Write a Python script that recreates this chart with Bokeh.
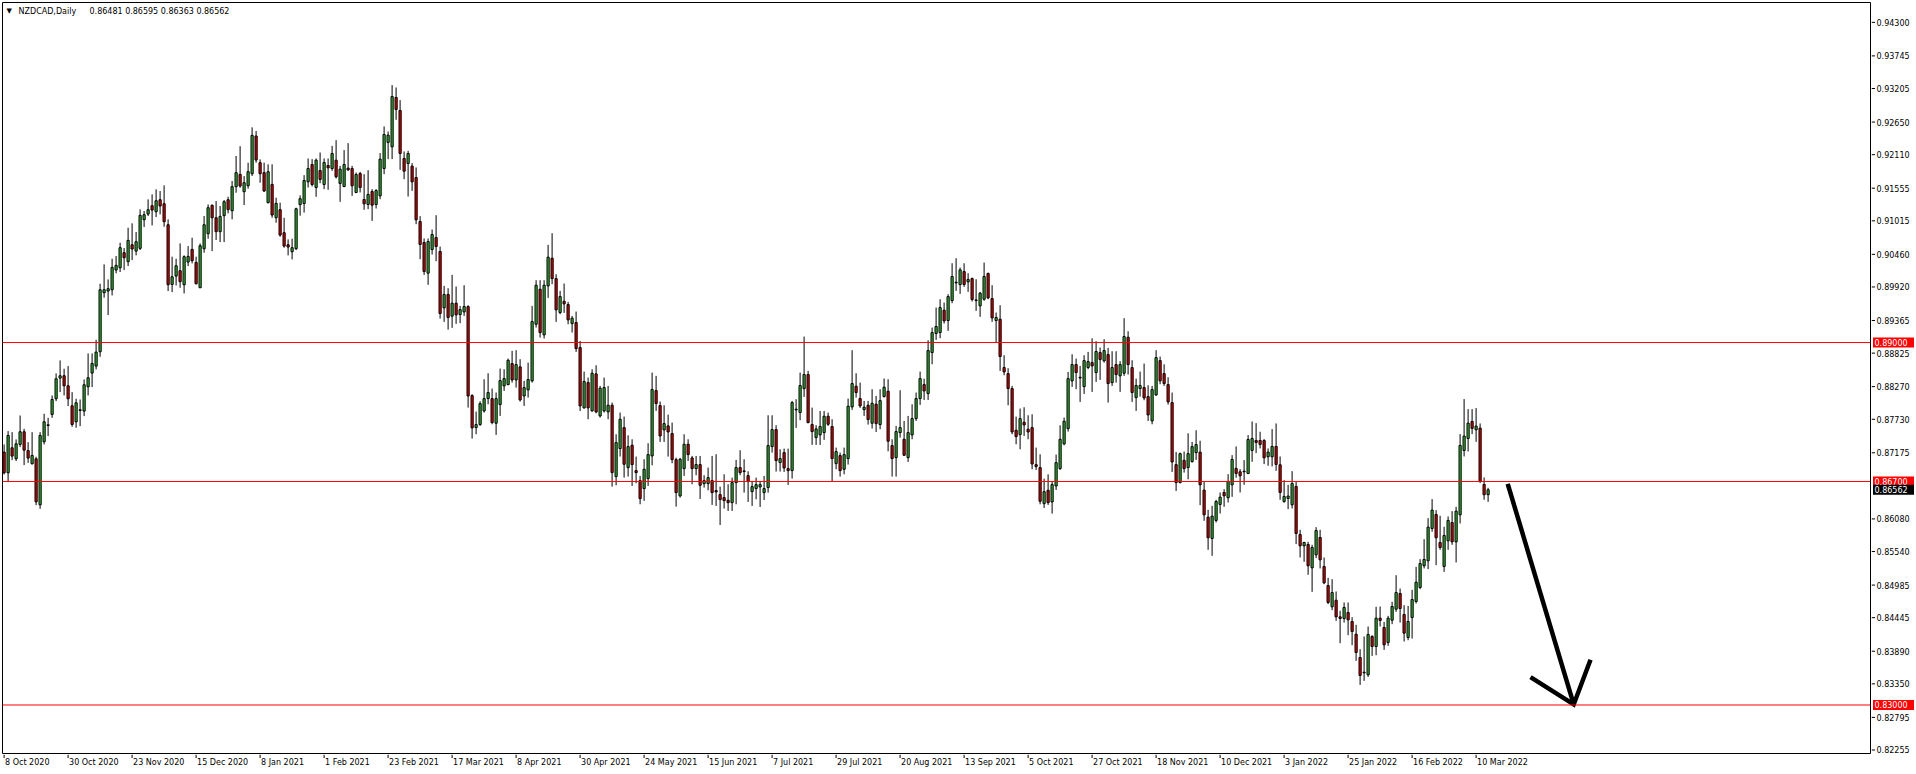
from bokeh.plotting import figure
from bokeh.layouts import column, row
from bokeh.models import Range1d, Label, ColumnDataSource, Span
from bokeh.core.properties import value
from bokeh.embed import file_html
from bokeh.resources import INLINE

symbol = "NZDCAD,Daily"
last_ohlc = "0.86481 0.86595 0.86363 0.86562"

opens = [
0.87186,0.86844,0.87258,0.87075,0.87313,0.87523,0.87213,0.86993,0.87075,0.86314,
0.87357,0.87627,0.87810,0.88069,0.88411,0.88450,0.88284,0.87953,0.87688,0.87876,
0.87865,0.88268,0.88494,0.88610,0.88847,0.89824,0.89852,0.89874,0.90200,0.90238,
0.90487,0.90338,0.90619,0.90514,0.90559,0.91033,0.91127,0.91265,0.91166,0.91364,
0.91298,0.90950,0.89962,0.90100,0.90189,0.89957,0.90332,0.90542,0.90327,0.89907,
0.90553,0.90801,0.91271,0.91066,0.90835,0.91100,0.91364,0.91182,0.91580,0.91784,
0.91497,0.91596,0.91795,0.92419,0.91977,0.91812,0.91315,0.91618,0.91066,0.91199,
0.90818,0.90619,0.90503,0.90553,0.91282,0.91301,0.91660,0.91947,0.91566,0.91848,
0.91616,0.91931,0.91881,0.92019,0.91633,0.91583,0.91887,0.91881,0.91484,0.91798,
0.91368,0.91285,0.91500,0.91285,0.91428,0.91881,0.92312,0.92240,0.93057,0.92842,
0.92047,0.91964,0.91920,0.91732,0.91003,0.90656,0.90148,0.90540,0.90738,0.90507,
0.89574,0.89795,0.89436,0.89651,0.89463,0.89507,0.89596,0.88122,0.87592,0.87642,
0.87868,0.88072,0.88072,0.87664,0.87973,0.88282,0.88304,0.88652,0.88381,0.88597,
0.88116,0.88216,0.88365,0.89303,0.89883,0.89127,0.89938,0.90396,0.90059,0.89496,
0.89684,0.89629,0.89314,0.89331,0.88917,0.87918,0.88337,0.87868,0.88481,0.87785,
0.87868,0.87852,0.87962,0.86781,0.87244,0.87592,0.86930,0.87300,0.86880,0.86715,
0.86582,0.86748,0.87123,0.88205,0.87956,0.87554,0.87620,0.87493,0.87062,0.86461,
0.86913,0.87316,0.87090,0.86913,0.86980,0.86665,0.86665,0.86715,0.86549,0.86483,
0.86433,0.86389,0.86350,0.86681,0.86930,0.86875,0.86797,0.86532,0.86582,0.86610,
0.86516,0.86599,0.87278,0.87559,0.87013,0.87178,0.86913,0.86880,0.87885,0.87841,
0.88238,0.88470,0.87642,0.87427,0.87471,0.87509,0.87780,0.87609,0.86996,0.87129,
0.86902,0.87079,0.87934,0.88277,0.88072,0.87890,0.87962,0.87664,0.87979,0.87642,
0.88106,0.88194,0.87294,0.87095,0.87509,0.87399,0.87095,0.87471,0.87741,0.88072,
0.88304,0.88155,0.88834,0.89149,0.89165,0.89535,0.89364,0.89695,0.89988,0.89960,
0.90175,0.90004,0.90059,0.89706,0.89607,0.89717,0.90142,0.89728,0.89364,0.89386,
0.88586,0.88486,0.88238,0.87548,0.87476,0.87680,0.87564,0.87592,0.86979,0.86930,
0.86333,0.86554,0.86361,0.86626,0.86913,0.87322,0.87575,0.88365,0.88635,0.88425,
0.88271,0.88586,0.88668,0.88503,0.88834,0.88696,0.88801,0.88337,0.88635,0.88448,
0.88492,0.89088,0.88586,0.88089,0.88238,0.88254,0.88105,0.87702,0.88133,0.88701,
0.88486,0.88304,0.88006,0.86979,0.86681,0.87051,0.86930,0.87029,0.87178,0.87186,
0.86557,0.86110,0.85756,0.86055,0.86320,0.86518,0.86430,0.86645,0.86916,0.86860,
0.86860,0.86833,0.87214,0.87379,0.87379,0.87379,0.87109,0.87109,0.87280,0.86976,
0.86369,0.86419,0.86314,0.86618,0.85823,0.85635,0.85657,0.85271,0.85486,0.85773,
0.85293,0.84978,0.84625,0.84735,0.84459,0.84432,0.84531,0.84382,0.84172,0.83786,
0.83543,0.83499,0.84134,0.83968,0.84437,0.84283,0.84034,0.84404,0.84586,0.84846,
0.84498,0.84117,0.84448,0.84713,0.84945,0.85304,0.85387,0.85922,0.86154,0.85690,
0.85293,0.85718,0.86021,0.85701,0.86148,0.87214,0.87412,0.87694,0.87556,0.87584,
0.86651,0.86481]

highs = [
0.87313,0.87534,0.87517,0.87396,0.87793,0.87572,0.87351,0.87517,0.87109,0.87517,
0.87821,0.87754,0.88124,0.88489,0.88704,0.88566,0.88610,0.88179,0.88069,0.88058,
0.88389,0.88820,0.88820,0.89046,0.89973,0.90294,0.90045,0.90387,0.90432,0.90652,
0.90564,0.90901,0.90973,0.90829,0.91204,0.91177,0.91370,0.91453,0.91536,0.91508,
0.91602,0.91039,0.90421,0.90387,0.90641,0.90443,0.90597,0.90735,0.90421,0.90641,
0.91094,0.91287,0.91287,0.91342,0.91260,0.91359,0.91414,0.91674,0.92088,0.92250,
0.91756,0.91977,0.92562,0.92502,0.92032,0.91977,0.91950,0.91950,0.91398,0.91315,
0.91066,0.90708,0.90719,0.91232,0.91436,0.91771,0.92047,0.92036,0.92047,0.92146,
0.92047,0.92047,0.92256,0.92350,0.91925,0.92185,0.92301,0.91925,0.91815,0.91826,
0.91787,0.91853,0.91539,0.91539,0.92135,0.92577,0.92494,0.93261,0.93222,0.93013,
0.92163,0.92174,0.91969,0.91898,0.91092,0.90722,0.90722,0.90871,0.91108,0.90589,
0.89938,0.89899,0.90120,0.89927,0.89607,0.89949,0.89618,0.88144,0.87857,0.88028,
0.88392,0.88492,0.88238,0.88172,0.88569,0.88558,0.88735,0.88862,0.88873,0.88724,
0.88365,0.88668,0.89607,0.90032,0.90032,0.90032,0.90617,0.90810,0.90131,0.89855,
0.89977,0.89673,0.89441,0.89513,0.89027,0.88519,0.88420,0.88558,0.88624,0.88282,
0.88420,0.88282,0.88006,0.87482,0.87841,0.87774,0.87465,0.87399,0.87112,0.86792,
0.87068,0.87333,0.88503,0.88448,0.88023,0.87962,0.87807,0.87675,0.87095,0.87090,
0.87482,0.87399,0.87123,0.87123,0.87123,0.86803,0.86930,0.87123,0.87151,0.86615,
0.86819,0.86654,0.86764,0.87057,0.87217,0.87068,0.86869,0.86709,0.86764,0.86709,
0.86792,0.87796,0.87796,0.87631,0.87233,0.87244,0.87244,0.88034,0.88061,0.88503,
0.89099,0.88531,0.87923,0.87631,0.87868,0.87868,0.87841,0.87730,0.87261,0.87178,
0.87261,0.88072,0.88873,0.88492,0.88337,0.88034,0.88034,0.88227,0.88117,0.88227,
0.88404,0.88393,0.87399,0.87620,0.88210,0.87702,0.87785,0.87978,0.88172,0.88519,
0.88403,0.89038,0.89248,0.89579,0.89717,0.89662,0.89800,0.90313,0.90396,0.90242,
0.90313,0.90148,0.90076,0.90048,0.89839,0.90324,0.90159,0.89949,0.89496,0.89618,
0.88790,0.88575,0.88282,0.87774,0.87907,0.87929,0.87796,0.87813,0.87261,0.87150,
0.86747,0.86819,0.86692,0.87145,0.87631,0.87758,0.88514,0.88806,0.88735,0.88613,
0.88790,0.88845,0.89071,0.89022,0.88917,0.89055,0.88911,0.88856,0.88856,0.88691,
0.89403,0.89187,0.88707,0.88403,0.88519,0.88652,0.88293,0.88282,0.88873,0.88768,
0.88641,0.88425,0.88172,0.87189,0.87178,0.87195,0.87498,0.87355,0.87548,0.87374,
0.86695,0.86231,0.86297,0.86397,0.86518,0.86573,0.86822,0.87136,0.87280,0.86905,
0.87054,0.87468,0.87694,0.87666,0.87523,0.87401,0.87247,0.87567,0.87661,0.87114,
0.86722,0.86645,0.86871,0.86700,0.85900,0.85701,0.85701,0.85652,0.85944,0.85900,
0.85442,0.85105,0.85083,0.84879,0.84559,0.84697,0.84697,0.84454,0.84327,0.83924,
0.84134,0.84299,0.84156,0.84625,0.84630,0.84376,0.84476,0.84708,0.85149,0.84928,
0.84652,0.84641,0.84906,0.85287,0.85414,0.85745,0.86093,0.86408,0.86226,0.86132,
0.85950,0.86121,0.86209,0.86281,0.87484,0.88064,0.87898,0.87898,0.87915,0.87661,
0.86767,0.86595]

lows = [
0.86816,0.86689,0.87053,0.87037,0.87269,0.86971,0.87009,0.86982,0.86308,0.86247,
0.87313,0.87451,0.87754,0.88030,0.88179,0.88124,0.87948,0.87605,0.87589,0.87616,
0.87782,0.88124,0.88262,0.88555,0.88765,0.89742,0.89455,0.89780,0.90145,0.90167,
0.90200,0.90266,0.90365,0.90443,0.90531,0.90912,0.91094,0.90939,0.91077,0.91122,
0.90917,0.89852,0.89835,0.89946,0.89907,0.89813,0.90266,0.90310,0.89962,0.89902,
0.90487,0.90719,0.90514,0.90697,0.90663,0.90663,0.91138,0.91039,0.91480,0.91563,
0.91276,0.91547,0.91756,0.91977,0.91646,0.91491,0.91304,0.91066,0.90984,0.90752,
0.90570,0.90443,0.90376,0.90531,0.91100,0.91152,0.91566,0.91583,0.91412,0.91638,
0.91539,0.91528,0.91842,0.91715,0.91329,0.91570,0.91842,0.91428,0.91473,0.91484,
0.91197,0.91208,0.91014,0.91219,0.91373,0.91787,0.92036,0.92036,0.92687,0.91859,
0.91704,0.91417,0.91511,0.90959,0.90380,0.90120,0.89955,0.90457,0.90347,0.89397,
0.89342,0.89215,0.89243,0.89309,0.89320,0.89441,0.87923,0.87410,0.87482,0.87620,
0.87840,0.87978,0.87647,0.87471,0.87785,0.88199,0.88293,0.88337,0.88254,0.88023,
0.87951,0.88089,0.88337,0.89248,0.89082,0.89066,0.89739,0.89966,0.89342,0.89469,
0.89491,0.89303,0.89165,0.88845,0.87868,0.87907,0.87730,0.87857,0.87829,0.87758,
0.87841,0.87730,0.86615,0.86637,0.87112,0.86764,0.86781,0.86626,0.86670,0.86323,
0.86378,0.86626,0.86968,0.87868,0.87355,0.87355,0.87112,0.87002,0.86284,0.86433,
0.86792,0.87040,0.86654,0.86803,0.86411,0.86599,0.86554,0.86312,0.86295,0.85980,
0.86251,0.86212,0.86212,0.86323,0.86803,0.86516,0.86361,0.86295,0.86405,0.86278,
0.86394,0.86516,0.87178,0.86864,0.86864,0.86858,0.86643,0.86748,0.87587,0.87714,
0.88100,0.87664,0.87305,0.87305,0.87305,0.87388,0.87620,0.86704,0.86902,0.86781,
0.86819,0.86980,0.87885,0.88089,0.87918,0.87785,0.87642,0.87576,0.87520,0.87565,
0.88089,0.87200,0.86781,0.86781,0.87426,0.87123,0.87023,0.87399,0.87702,0.87967,
0.88050,0.88050,0.88641,0.89044,0.89071,0.89314,0.89193,0.89651,0.89855,0.89806,
0.89921,0.89839,0.89679,0.89524,0.89425,0.89690,0.89717,0.89342,0.89000,0.88530,
0.88459,0.87962,0.87482,0.87316,0.87233,0.87454,0.87399,0.86902,0.86891,0.86322,
0.86262,0.86311,0.86168,0.86560,0.86891,0.87299,0.87526,0.88265,0.88227,0.88017,
0.88149,0.88558,0.88183,0.88348,0.88381,0.88668,0.88006,0.88282,0.88337,0.88183,
0.88448,0.88470,0.88017,0.87868,0.88105,0.88045,0.87702,0.87647,0.88116,0.88310,
0.88282,0.87973,0.86858,0.86543,0.86670,0.86847,0.86736,0.87012,0.87057,0.86308,
0.86049,0.85569,0.85469,0.86021,0.86170,0.86281,0.86353,0.86446,0.86761,0.86518,
0.86645,0.86822,0.87026,0.87170,0.87247,0.86987,0.86960,0.86949,0.86877,0.86397,
0.86347,0.86242,0.86253,0.85663,0.85442,0.85370,0.85155,0.84873,0.85431,0.85260,
0.85000,0.84669,0.84570,0.84393,0.84023,0.84365,0.84156,0.83990,0.83731,0.83333,
0.83399,0.83466,0.83813,0.83824,0.84299,0.83913,0.83979,0.84338,0.84542,0.84365,
0.84051,0.84073,0.84100,0.84680,0.84917,0.85260,0.85249,0.85867,0.85315,0.85569,
0.85204,0.85569,0.85652,0.85359,0.86005,0.87114,0.87197,0.87484,0.87357,0.86673,
0.86397,0.86363]

closes = [
0.86844,0.87462,0.87120,0.87324,0.87523,0.87219,0.87087,0.87131,0.86363,0.87462,
0.87688,0.87638,0.88058,0.88400,0.88450,0.88284,0.88069,0.87644,0.88003,0.87887,
0.88301,0.88417,0.88654,0.88842,0.89874,0.89874,0.89891,0.90244,0.90277,0.90570,
0.90404,0.90691,0.90548,0.90669,0.91105,0.91116,0.91199,0.91193,0.91348,0.91260,
0.91000,0.89957,0.90089,0.90271,0.90007,0.90421,0.90426,0.90354,0.89973,0.90603,
0.90950,0.91232,0.91066,0.90835,0.91088,0.91331,0.91199,0.91580,0.91812,0.91591,
0.91646,0.91828,0.92430,0.92021,0.91795,0.91508,0.91828,0.91111,0.91304,0.90779,
0.90597,0.90581,0.90570,0.91215,0.91381,0.91682,0.91881,0.91616,0.92019,0.91699,
0.91980,0.91892,0.92129,0.91743,0.91870,0.91947,0.91859,0.91594,0.91782,0.91566,
0.91296,0.91451,0.91274,0.91517,0.92036,0.92444,0.92433,0.93073,0.92858,0.92129,
0.91837,0.92129,0.91660,0.91031,0.90623,0.90175,0.90672,0.90788,0.90589,0.89480,
0.89795,0.89414,0.89651,0.89458,0.89546,0.89596,0.88116,0.87587,0.87642,0.87989,
0.88072,0.88172,0.87675,0.88072,0.88370,0.88403,0.88707,0.88381,0.88635,0.88050,
0.88254,0.88387,0.89347,0.89949,0.89165,0.89949,0.90413,0.90059,0.89541,0.89761,
0.89640,0.89375,0.89403,0.88900,0.87951,0.88354,0.87918,0.88492,0.87851,0.88244,
0.88255,0.87962,0.86847,0.87344,0.87730,0.86985,0.87278,0.86980,0.86847,0.86416,
0.86902,0.87145,0.88222,0.87990,0.87454,0.87658,0.87520,0.87062,0.86516,0.87068,
0.87316,0.87145,0.86913,0.86980,0.86637,0.86715,0.86764,0.86516,0.86527,0.86400,
0.86383,0.86350,0.86681,0.86930,0.86847,0.86864,0.86698,0.86615,0.86648,0.86648,
0.86582,0.87294,0.87559,0.87046,0.87079,0.86924,0.86880,0.88006,0.87896,0.88288,
0.88470,0.87675,0.87526,0.87570,0.87609,0.87780,0.87647,0.87079,0.87195,0.86880,
0.87145,0.87946,0.88321,0.88172,0.87951,0.87929,0.87725,0.87995,0.87658,0.88039,
0.88260,0.87366,0.87079,0.87526,0.87592,0.87134,0.87509,0.87741,0.88072,0.88403,
0.88199,0.88867,0.89165,0.89265,0.89579,0.89358,0.89761,0.90093,0.89999,0.90203,
0.89960,0.90043,0.89712,0.89695,0.89817,0.90093,0.89739,0.89408,0.89414,0.88768,
0.88514,0.88238,0.87520,0.87443,0.87741,0.87636,0.87520,0.86990,0.86946,0.86372,
0.86532,0.86350,0.86648,0.87012,0.87399,0.87697,0.88403,0.88635,0.88503,0.88414,
0.88701,0.88685,0.88613,0.88851,0.88718,0.88867,0.88321,0.88586,0.88470,0.88635,
0.89099,0.88635,0.88172,0.88288,0.88288,0.88083,0.87802,0.88221,0.88751,0.88365,
0.88321,0.88017,0.87023,0.86681,0.87161,0.86913,0.87161,0.87277,0.87311,0.86645,
0.86148,0.85768,0.86126,0.86369,0.86441,0.86463,0.86700,0.87065,0.86833,0.86794,
0.86871,0.87396,0.87412,0.87346,0.87313,0.87092,0.87186,0.87280,0.86982,0.86518,
0.86452,0.86458,0.86667,0.85839,0.85635,0.85690,0.85304,0.85607,0.85889,0.85403,
0.85022,0.84697,0.84862,0.84459,0.84432,0.84614,0.84410,0.84216,0.83869,0.83488,
0.83532,0.84167,0.83968,0.84437,0.84399,0.83996,0.84437,0.84630,0.84862,0.84597,
0.84189,0.84382,0.84746,0.85033,0.85342,0.85409,0.85944,0.86226,0.85768,0.85607,
0.85806,0.86055,0.85701,0.86209,0.87297,0.87451,0.87666,0.87578,0.87617,0.86700,
0.86481,0.86562]

date_labels = ["8 Oct 2020", "30 Oct 2020", "23 Nov 2020", "15 Dec 2020", "8 Jan 2021",
               "1 Feb 2021", "23 Feb 2021", "17 Mar 2021", "8 Apr 2021", "30 Apr 2021",
               "24 May 2021", "15 Jun 2021", "7 Jul 2021", "29 Jul 2021", "20 Aug 2021",
               "13 Sep 2021", "5 Oct 2021", "27 Oct 2021", "18 Nov 2021", "10 Dec 2021",
               "3 Jan 2022", "25 Jan 2022", "16 Feb 2022", "10 Mar 2022"]
date_label_bars = [0, 16, 32, 48, 64, 80, 96, 112, 128, 144, 160, 176,
                   192, 208, 224, 240, 256, 272, 288, 304, 320, 336, 352, 368]

price_ticks = [0.94300, 0.93745, 0.93205, 0.92650, 0.92110, 0.91555, 0.91015, 0.90460,
               0.89920, 0.89365, 0.88825, 0.88270, 0.87730, 0.87175, 0.86080, 0.85540,
               0.84985, 0.84445, 0.83890, 0.83350, 0.82795, 0.82255]

levels = [0.89000, 0.86700, 0.83000]
current_price = 0.86562

arrow_shaft_x = [375.9, 392.4]
arrow_shaft_y = [0.86662, 0.83009]
arrow_head_x = [381.6, 392.4, 396.6]
arrow_head_y = [0.83460, 0.83009, 0.83748]

# ---------------------------------------------------------------
FONT = "DejaVu Sans"
FS = "8px"
MAIN_W, MAIN_H = 1871, 754     # frame: x 2..1870, y 2..753
SCALE_W = 43                   # price scale strip on the right
TIME_H = 18                    # time scale strip at the bottom

BULL = "#33B233"
BEAR = "#E00000"
LEVEL = "#FF0000"

x_rng = Range1d(-0.4, 466.6)
y_rng = Range1d(0.82197, 0.94629)


def bare(fig):
    fig.grid.visible = False
    fig.background_fill_color = "white"
    fig.border_fill_color = "white"
    fig.outline_line_color = None
    return fig


# ---------------- main chart ----------------
p = bare(figure(width=MAIN_W, height=MAIN_H, output_backend="svg", toolbar_location=None,
                x_range=x_rng, y_range=y_rng, x_axis_location=None, y_axis_location=None,
                min_border_left=2, min_border_top=2, min_border_right=1, min_border_bottom=1))
p.outline_line_color = "black"
p.outline_line_width = 1

n = len(opens)
src = ColumnDataSource(dict(
    x=list(range(n)),
    h=highs, l=lows,
    top=[max(o, c) for o, c in zip(opens, closes)],
    bottom=[min(o, c) for o, c in zip(opens, closes)],
    color=[BULL if c >= o else BEAR for o, c in zip(opens, closes)],
))

for lv in levels:
    p.add_layout(Span(location=lv, dimension="width", line_color=LEVEL, line_width=1))

p.segment(x0="x", y0="h", x1="x", y1="l", source=src, line_color="black", line_width=1)
p.vbar(x="x", width=0.55, top="top", bottom="bottom", fill_color="color",
       line_color="black", line_width=1, source=src)

p.line(arrow_shaft_x, arrow_shaft_y, line_color="black", line_width=4.5)
p.line(arrow_head_x, arrow_head_y, line_color="black", line_width=4.5, line_join="miter")

frame_h = MAIN_H - 3
p.add_layout(Label(x=4, y=frame_h - 8.5, x_units="screen", y_units="screen", text="\u25BC",
                   text_align="left", text_baseline="middle", text_font=FONT,
                   text_font_size="7px", text_color="black"))
p.add_layout(Label(x=16, y=frame_h - 8.5, x_units="screen", y_units="screen", text=symbol,
                   text_align="left", text_baseline="middle", text_font=FONT,
                   text_font_size=FS, text_color="black"))
p.add_layout(Label(x=87, y=frame_h - 8.5, x_units="screen", y_units="screen", text=last_ohlc,
                   text_align="left", text_baseline="middle", text_font=FONT,
                   text_font_size=FS, text_color="black"))

# ---------------- price scale (right) ----------------
ps = bare(figure(width=SCALE_W, height=MAIN_H, output_backend="svg", toolbar_location=None,
                 x_range=Range1d(0, SCALE_W), y_range=y_rng,
                 x_axis_location=None, y_axis_location=None,
                 min_border_left=0, min_border_top=2, min_border_right=0, min_border_bottom=1))
ps.segment(x0=[0] * len(price_ticks), x1=[3.5] * len(price_ticks), y0=price_ticks, y1=price_ticks,
           line_color="black", line_width=1)
ps.text(x=[5] * len(price_ticks), y=price_ticks, text=[f"{t:.5f}" for t in price_ticks],
        text_align="left", text_baseline="middle", text_font=value(FONT),
        text_font_size=FS, text_color="black")
ps.rect(x=[22] * len(levels), y=levels, width=41, height=10, height_units="screen",
        fill_color=LEVEL, line_color=None)
ps.text(x=[3] * len(levels), y=levels, text=[f"{lv:.5f}" for lv in levels],
        text_align="left", text_baseline="middle", text_font=value(FONT),
        text_font_size=FS, text_color="white")
ps.rect(x=[22], y=[current_price], width=41, height=10, height_units="screen",
        fill_color="black", line_color=None)
ps.text(x=[3], y=[current_price], text=[f"{current_price:.5f}"],
        text_align="left", text_baseline="middle", text_font=value(FONT),
        text_font_size=FS, text_color="white")

# ---------------- time scale (bottom) ----------------
ts = bare(figure(width=MAIN_W, height=TIME_H, output_backend="svg", toolbar_location=None,
                 x_range=x_rng, y_range=Range1d(0, TIME_H),
                 x_axis_location=None, y_axis_location=None,
                 min_border_left=2, min_border_top=0, min_border_right=1, min_border_bottom=0))
ts.segment(x0=date_label_bars, x1=date_label_bars, y0=[TIME_H] * len(date_label_bars),
           y1=[TIME_H - 3.5] * len(date_label_bars), line_color="black", line_width=1)
ts.text(x=date_label_bars, y=[TIME_H - 8] * len(date_label_bars), text=date_labels,
        x_offset=1, text_align="left", text_baseline="middle", text_font=value(FONT),
        text_font_size=FS, text_color="black")

layout = column(row(p, ps), ts)
open("out.html", "w").write(file_html(layout, INLINE))
